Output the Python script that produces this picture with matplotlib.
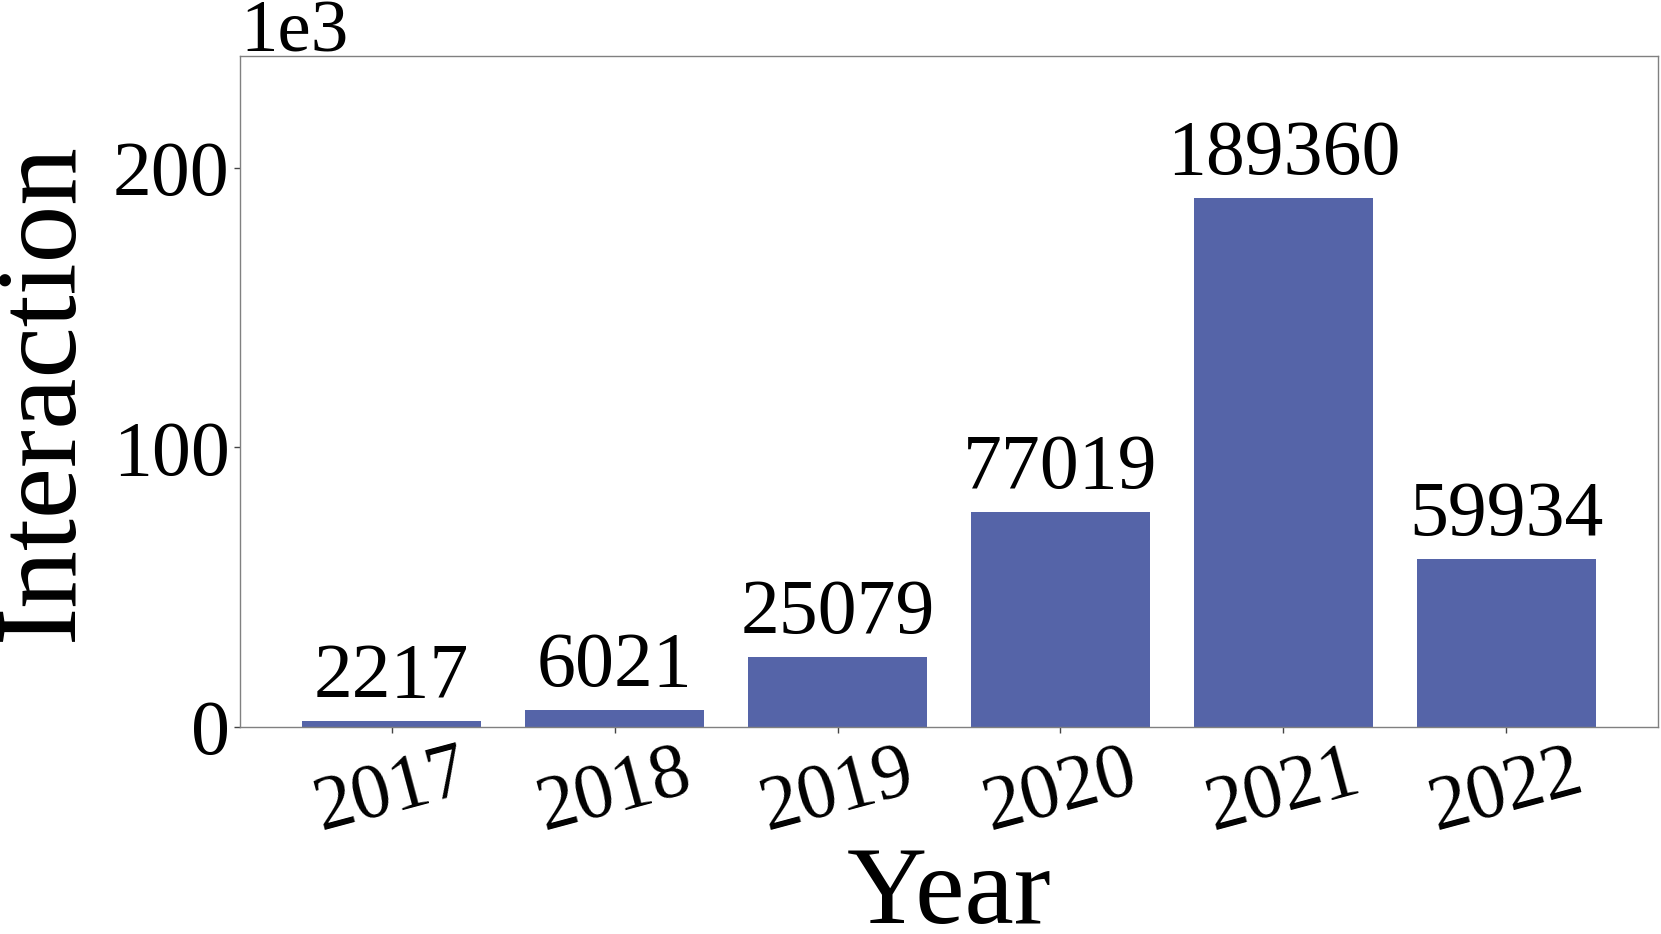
import matplotlib
matplotlib.use("Agg")
import matplotlib.pyplot as plt

years = ["2017", "2018", "2019", "2020", "2021", "2022"]
interactions = [2217, 6021, 25079, 77019, 189360, 59934]

plt.rcParams['font.family'] = ['Liberation Serif', 'DejaVu Serif']

fig, ax = plt.subplots(figsize=(16.61, 9.34), dpi=100)
fig.subplots_adjust(left=240 / 1661, right=1658 / 1661, top=1 - 56 / 934, bottom=1 - 727 / 934)

x = range(len(years))
bars = ax.bar(x, interactions, width=0.8, color='#5564a8')
for xi, v in zip(x, interactions):
    ax.text(xi, v + 2500, str(v), ha='center', va='bottom', fontsize=56)

ax.set_xticks(list(x))
ax.set_xticklabels(years, rotation=15, fontsize=56)
ax.set_xlim(-0.68, 5.68)
ax.set_ylim(0, 240000)
ax.ticklabel_format(style='sci', axis='y', scilimits=(3, 3))
ax.yaxis.get_offset_text().set_fontsize(54)
ax.tick_params(axis='y', labelsize=56)
ax.tick_params(colors='#444444', labelcolor='black', length=4, width=1)

for s in ax.spines.values():
    s.set_color('#808080')
    s.set_linewidth(1)

ax.set_xlabel("Year", fontsize=80, labelpad=0)
ax.set_ylabel("Interaction", fontsize=83, labelpad=12)

fig.savefig("out.png", dpi=100)
